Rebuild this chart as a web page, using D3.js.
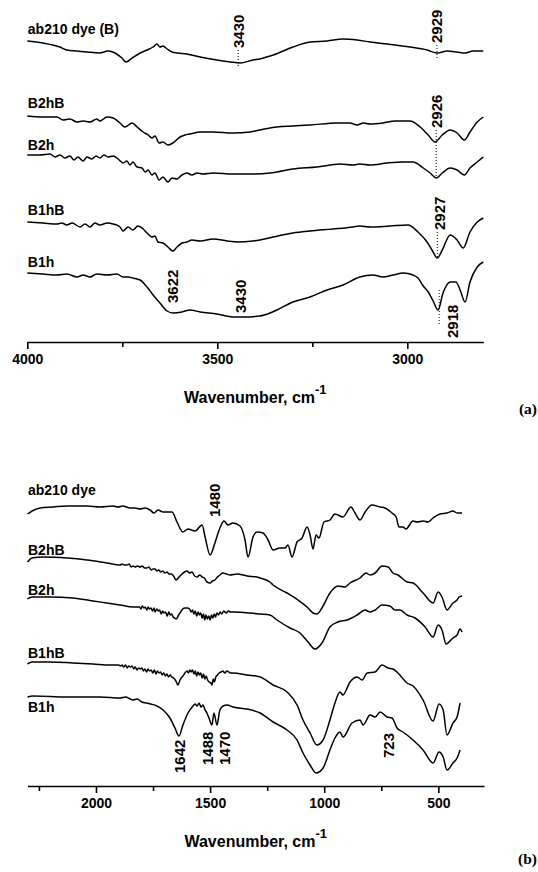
<!DOCTYPE html>
<html><head><meta charset="utf-8">
<script src="https://cdn.jsdelivr.net/npm/d3@7/dist/d3.min.js"></script>
<style>body{margin:0;background:#fff}svg{display:block}</style>
</head><body>
<svg id="chart" width="538" height="872"></svg>
<script>
// ---------- Panel (a) data: [wavenumber cm-1, transmittance a.u.] ----------
const ticksA = [4000, 3500, 3000];
const minorTicksA = [3750, 3250];
const a_dye = [[4000,301],[3959,299],[3914,295],[3896,292],[3869,291],[3843,290],[3809,289],[3788,291],[3769,289],[3751,284],[3740,280],[3724,284],[3703,289],[3685,292],[3669,295],[3659,298],[3651,295],[3643,296],[3632,293],[3619,290],[3606,289],[3580,288],[3545,285],[3501,282],[3465,280],[3440,279],[3406,282],[3388,283],[3361,286],[3353,287],[3301,295],[3256,300],[3211,301],[3169,303],[3132,302],[3098,300],[3053,298],[2993,295],[2948,292],[2921,289],[2895,291],[2869,290],[2848,289],[2827,291],[2800,291]];
const a_B2hB = [[4000,226],[3959,225],[3922,225],[3906,222],[3888,223],[3869,220],[3853,221],[3835,220],[3817,223],[3809,221],[3790,225],[3774,224],[3756,219],[3743,215],[3724,219],[3711,215],[3695,210],[3682,207],[3672,204],[3664,206],[3653,199],[3643,200],[3630,197],[3617,199],[3598,205],[3585,207],[3572,208],[3545,210],[3511,210],[3459,209],[3414,210],[3388,212],[3343,215],[3301,216],[3256,217],[3185,219],[3151,219],[3132,217],[3116,219],[3098,218],[3064,219],[3032,221],[2993,221],[2966,215],[2945,207],[2927,200],[2908,207],[2887,212],[2869,209],[2850,202],[2835,210],[2816,220],[2800,225]];
const a_B2h = [[4000,187],[3967,187],[3940,188],[3927,185],[3914,187],[3901,184],[3888,186],[3877,182],[3867,185],[3853,181],[3843,185],[3830,183],[3819,186],[3809,184],[3798,187],[3788,185],[3774,186],[3761,183],[3748,179],[3738,181],[3730,177],[3722,180],[3711,175],[3698,174],[3690,170],[3682,172],[3672,167],[3664,169],[3653,162],[3643,165],[3630,160],[3619,164],[3606,163],[3593,167],[3580,169],[3567,167],[3553,169],[3538,168],[3511,169],[3459,168],[3414,168],[3361,169],[3343,170],[3301,173],[3238,175],[3177,178],[3143,177],[3125,178],[3098,177],[3053,179],[3011,180],[2985,180],[2958,174],[2940,169],[2924,164],[2908,169],[2887,174],[2869,172],[2850,167],[2835,174],[2816,180],[2800,185]];
const a_B1hB = [[4000,120],[3959,119],[3922,118],[3909,119],[3896,117],[3882,119],[3861,115],[3848,118],[3835,115],[3822,119],[3809,117],[3790,119],[3774,118],[3756,115],[3748,111],[3735,115],[3722,112],[3709,116],[3695,113],[3685,109],[3672,105],[3664,106],[3656,100],[3643,99],[3630,95],[3617,91],[3606,95],[3593,99],[3580,100],[3567,102],[3545,101],[3511,103],[3474,101],[3448,100],[3406,101],[3388,102],[3353,105],[3301,109],[3256,111],[3195,113],[3143,115],[3125,116],[3098,115],[3045,116],[2998,117],[2972,110],[2948,100],[2935,92],[2921,84],[2908,92],[2887,107],[2869,102],[2853,94],[2835,110],[2816,120],[2800,124]];
const a_B1h = [[4000,69],[3959,68],[3922,67],[3896,68],[3869,65],[3853,67],[3835,65],[3817,68],[3790,67],[3764,68],[3748,65],[3735,65],[3722,64],[3703,62],[3685,55],[3669,47],[3651,39],[3632,31],[3617,29],[3593,30],[3572,32],[3545,30],[3501,28],[3459,25],[3432,25],[3388,26],[3361,29],[3343,32],[3301,40],[3256,45],[3211,52],[3169,57],[3125,65],[3090,67],[3064,65],[3037,67],[3011,69],[2985,67],[2972,64],[2958,56],[2945,50],[2932,41],[2919,32],[2906,49],[2887,60],[2872,60],[2861,52],[2848,40],[2835,60],[2816,75],[2800,80]];
const namesA = ["ab210 dye (B)", "B2hB", "B2h", "B1hB", "B1h"];
const seriesA = [a_dye, a_B2hB, a_B2h, a_B1hB, a_B1h];
const labelYA = [308, 234, 192, 127, 75];   // label baselines (a.u.)
const peaksA = [
  {text:"3430", w:3445, bottom:294, line:[292,274]},
  {text:"2929", w:2922, bottom:299, line:[297,282]},
  {text:"2926", w:2924, bottom:214, line:[212,164]},
  {text:"2927", w:2914, lineW:2921, bottom:112, line:[110,84]},
  {text:"2918", w:2882, lineW:2916, bottom:4, line:[52,17]},
  {text:"3622", w:3617, bottom:39},
  {text:"3430", w:3440, bottom:29}
];

// ---------- Panel (b) data ----------
const ticksB = [2000, 1500, 1000, 500];
const minorTicksB = [2250, 1750, 1250, 750];
const b_dye = [[2300,272],[2280,275],[2245,278],[2188,279],[2127,280],[2039,280],[1982,279],[1926,280],[1904,279],[1882,280],[1851,278],[1829,278],[1807,277],[1785,278],[1763,276],[1746,273],[1728,276],[1706,274],[1667,274],[1645,264],[1619,254],[1597,257],[1566,255],[1535,261],[1522,249],[1500,231],[1479,243],[1457,258],[1439,265],[1422,261],[1400,263],[1369,260],[1347,246],[1334,229],[1312,249],[1295,254],[1268,253],[1246,246],[1224,236],[1194,238],[1172,238],[1159,241],[1141,229],[1119,244],[1097,248],[1075,259],[1062,251],[1049,237],[1036,251],[1023,248],[1001,264],[975,266],[953,272],[918,269],[883,279],[865,273],[843,266],[821,274],[791,281],[755,279],[734,278],[703,273],[685,269],[672,259],[655,259],[642,257],[611,265],[593,264],[567,265],[545,264],[523,268],[493,272],[462,273],[436,275],[418,273],[396,273]];
const b_B2hB = [[2300,224],[2280,228],[2232,229],[2127,228],[2039,226],[1952,223],[1895,221],[1885,222],[1876,221],[1864,221],[1855,222],[1846,219],[1838,220],[1829,219],[1818,220],[1807,219],[1797,220],[1787,218],[1777,218],[1768,219],[1758,216],[1750,217],[1741,217],[1733,215],[1725,216],[1716,214],[1708,215],[1698,213],[1689,214],[1680,212],[1670,212],[1660,210],[1649,206],[1636,209],[1623,212],[1612,214],[1601,215],[1590,213],[1579,214],[1568,210],[1557,209],[1546,211],[1535,209],[1525,208],[1514,204],[1500,203],[1490,205],[1479,206],[1468,209],[1457,211],[1443,213],[1428,212],[1413,211],[1382,212],[1338,210],[1295,209],[1281,208],[1238,204],[1224,201],[1163,193],[1115,186],[1075,179],[1049,173],[1032,172],[1010,178],[975,193],[940,200],[909,199],[887,203],[843,208],[817,213],[799,211],[777,213],[747,220],[720,219],[699,213],[677,211],[637,204],[611,203],[567,193],[523,183],[501,194],[484,189],[462,176],[436,183],[418,186],[409,189],[396,190]];
const b_B2h = [[2300,187],[2280,189],[2202,189],[2101,188],[2013,185],[1952,183],[1895,181],[1838,179],[1810,179],[1803,177],[1797,180],[1790,178],[1784,179],[1777,176],[1771,179],[1766,177],[1759,178],[1752,175],[1746,178],[1741,174],[1734,177],[1727,175],[1721,176],[1714,172],[1708,175],[1702,173],[1695,174],[1688,170],[1681,174],[1675,171],[1669,172],[1662,169],[1656,168],[1648,167],[1640,170],[1632,173],[1620,177],[1610,178],[1600,178],[1590,177],[1583,174],[1577,176],[1571,172],[1565,175],[1559,170],[1553,174],[1547,171],[1541,173],[1535,168],[1529,172],[1524,166],[1518,171],[1512,167],[1506,170],[1500,166],[1494,171],[1488,168],[1482,172],[1476,169],[1470,173],[1463,171],[1456,174],[1449,172],[1440,175],[1430,173],[1420,175],[1410,174],[1400,174],[1325,173],[1281,172],[1238,171],[1207,166],[1150,158],[1106,153],[1071,144],[1040,137],[1010,143],[975,159],[940,164],[900,166],[856,171],[821,176],[799,174],[777,176],[747,181],[712,180],[690,176],[668,176],[637,171],[602,168],[558,159],[523,149],[501,161],[484,156],[466,142],[436,148],[418,151],[405,157],[396,154]];
const b_B1hB = [[2300,122],[2280,124],[2202,124],[2101,123],[2013,122],[1939,121],[1900,121],[1893,120],[1886,121],[1878,119],[1871,121],[1863,118],[1857,120],[1849,119],[1842,120],[1834,117],[1828,119],[1820,116],[1813,118],[1806,117],[1799,118],[1792,115],[1786,117],[1778,114],[1772,117],[1765,115],[1758,116],[1751,113],[1744,116],[1737,112],[1731,115],[1724,113],[1717,114],[1710,111],[1703,113],[1696,110],[1689,112],[1682,109],[1675,111],[1668,109],[1660,108],[1650,105],[1641,101],[1632,106],[1619,110],[1610,113],[1601,115],[1595,113],[1589,116],[1583,114],[1577,116],[1571,112],[1565,115],[1559,110],[1553,114],[1547,111],[1541,113],[1535,108],[1529,112],[1523,107],[1517,110],[1511,106],[1504,104],[1496,103],[1492,101],[1486,107],[1481,104],[1475,109],[1468,111],[1460,113],[1452,114],[1444,115],[1436,113],[1426,115],[1410,113],[1400,113],[1338,111],[1281,109],[1224,101],[1163,94],[1119,81],[1093,66],[1062,53],[1032,41],[1005,46],[975,66],[953,83],[931,94],[918,91],[887,104],[856,109],[834,106],[812,113],[777,114],[747,121],[720,118],[699,117],[677,113],[637,103],[611,100],[567,86],[523,65],[497,82],[479,76],[462,51],[436,63],[418,69],[405,83]];
const b_B1h = [[2300,89],[2276,90],[2127,89],[1982,89],[1895,88],[1870,89],[1850,87],[1838,86],[1820,87],[1800,84],[1777,83],[1760,82],[1733,80],[1706,76],[1676,68],[1654,58],[1636,50],[1619,61],[1597,73],[1575,80],[1566,82],[1557,80],[1548,83],[1540,79],[1531,81],[1522,76],[1514,73],[1505,68],[1492,61],[1483,73],[1470,61],[1457,76],[1443,80],[1426,81],[1400,79],[1338,77],[1281,73],[1224,64],[1163,56],[1119,46],[1093,33],[1062,21],[1036,13],[1005,18],[975,36],[953,48],[931,54],[918,49],[878,63],[843,66],[830,61],[799,71],[777,69],[755,74],[725,69],[703,68],[681,58],[655,54],[611,46],[567,36],[523,23],[497,34],[479,29],[462,16],[436,23],[418,28],[405,36]];
const namesB = ["ab210 dye", "B2hB", "B2h", "B1hB", "B1h"];
const seriesB = [b_dye, b_B2hB, b_B2h, b_B1hB, b_B1h];
const labelYB = [291, 231, 191, 128, 74];
const peaksB = [
  {text:"1480", w:1479, bottom:269},
  {text:"1642", w:1632, bottom:13},
  {text:"1488", w:1509, bottom:21},
  {text:"1470", w:1435, bottom:21},
  {text:"723",  w:720,  bottom:28}
];

// ---------- drawing ----------
const svg = d3.select("#chart");
const SANS = "'Liberation Sans', Arial, Helvetica, sans-serif";

function panel(cfg) {
  const {x, y, series, names, labelY, peaks, ticks, minor, tag, tagY} = cfg;
  const g = svg.append("g");
  const line = d3.line().x(d => x(d[0])).y(d => y(d[1])).curve(d3.curveMonotoneX);
  g.selectAll("path.spec").data(series).join("path")
    .attr("class", "spec").attr("d", line)
    .attr("fill", "none").attr("stroke", "#000").attr("stroke-width", 1.5)
    .attr("stroke-linejoin", "round");
  g.selectAll("text.name").data(names).join("text")
    .attr("class", "name")
    .attr("x", x(x.domain()[0]) + 0.5).attr("y", (d, i) => y(labelY[i]))
    .attr("font-family", SANS).attr("font-weight", "bold").attr("font-size", 14)
    .text(d => d);
  // peak annotations
  g.selectAll("line.peak").data(peaks.filter(p => p.line)).join("line")
    .attr("class", "peak")
    .attr("x1", p => x(p.lineW || p.w)).attr("x2", p => x(p.lineW || p.w))
    .attr("y1", p => y(p.line[0])).attr("y2", p => y(p.line[1]))
    .attr("stroke", "#000").attr("stroke-width", 1).attr("stroke-dasharray", "1,2");
  g.selectAll("text.peak").data(peaks).join("text")
    .attr("class", "peak")
    .attr("transform", p => `translate(${x(p.w)},${y(p.bottom)}) rotate(-90)`)
    .attr("dy", "0.36em")
    .attr("font-family", SANS).attr("font-weight", "bold").attr("font-size", 15)
    .text(p => p.text);
  // axis
  const y0 = y(0);
  const ax = g.append("g").attr("transform", `translate(0,${y0})`)
    .call(d3.axisBottom(x).tickValues(ticks).tickSize(7).tickSizeOuter(0).tickPadding(5).tickFormat(d3.format("d")));
  g.append("g").attr("transform", `translate(0,${y0})`)
    .call(d3.axisBottom(x).tickValues(minor).tickSize(5).tickSizeOuter(0).tickFormat(""))
    .select(".domain").remove();
  g.selectAll(".domain, .tick line").attr("stroke", "#000").attr("stroke-width", 1.6);
  ax.selectAll(".tick text").attr("font-family", SANS).attr("font-weight", "bold")
    .attr("font-size", 14).attr("fill", "#000");
  const title = g.append("text")
    .attr("x", (x.range()[0] + x.range()[1]) / 2).attr("y", y0 + 61)
    .attr("text-anchor", "middle")
    .attr("font-family", SANS).attr("font-weight", "bold").attr("font-size", 16);
  title.append("tspan").text("Wavenumber, cm");
  title.append("tspan").attr("font-size", 13).attr("dy", -9).text("-1");
  svg.append("text").attr("x", 537).attr("y", tagY).attr("text-anchor", "end")
    .attr("font-family", "'Liberation Serif', 'Times New Roman', serif")
    .attr("font-weight", "bold").attr("font-size", 15.5).text(tag);
}

const xA = d3.scaleLinear().domain([4000, 2800]).range([27.3, 483.3]);
const yA = d3.scaleLinear().domain([0, 342]).range([342, 0]);
panel({x: xA, y: yA, series: seriesA, names: namesA, labelY: labelYA, peaks: peaksA,
  ticks: ticksA, minor: minorTicksA, tag: "(a)", tagY: 414});

const xB = d3.scaleLinear().domain([2300, 300]).range([27.5, 484]);
const yB = d3.scaleLinear().domain([0, 350]).range([786, 436]);
panel({x: xB, y: yB, series: seriesB, names: namesB, labelY: labelYB, peaks: peaksB,
  ticks: ticksB, minor: minorTicksB, tag: "(b)", tagY: 864});
</script>
</body></html>
